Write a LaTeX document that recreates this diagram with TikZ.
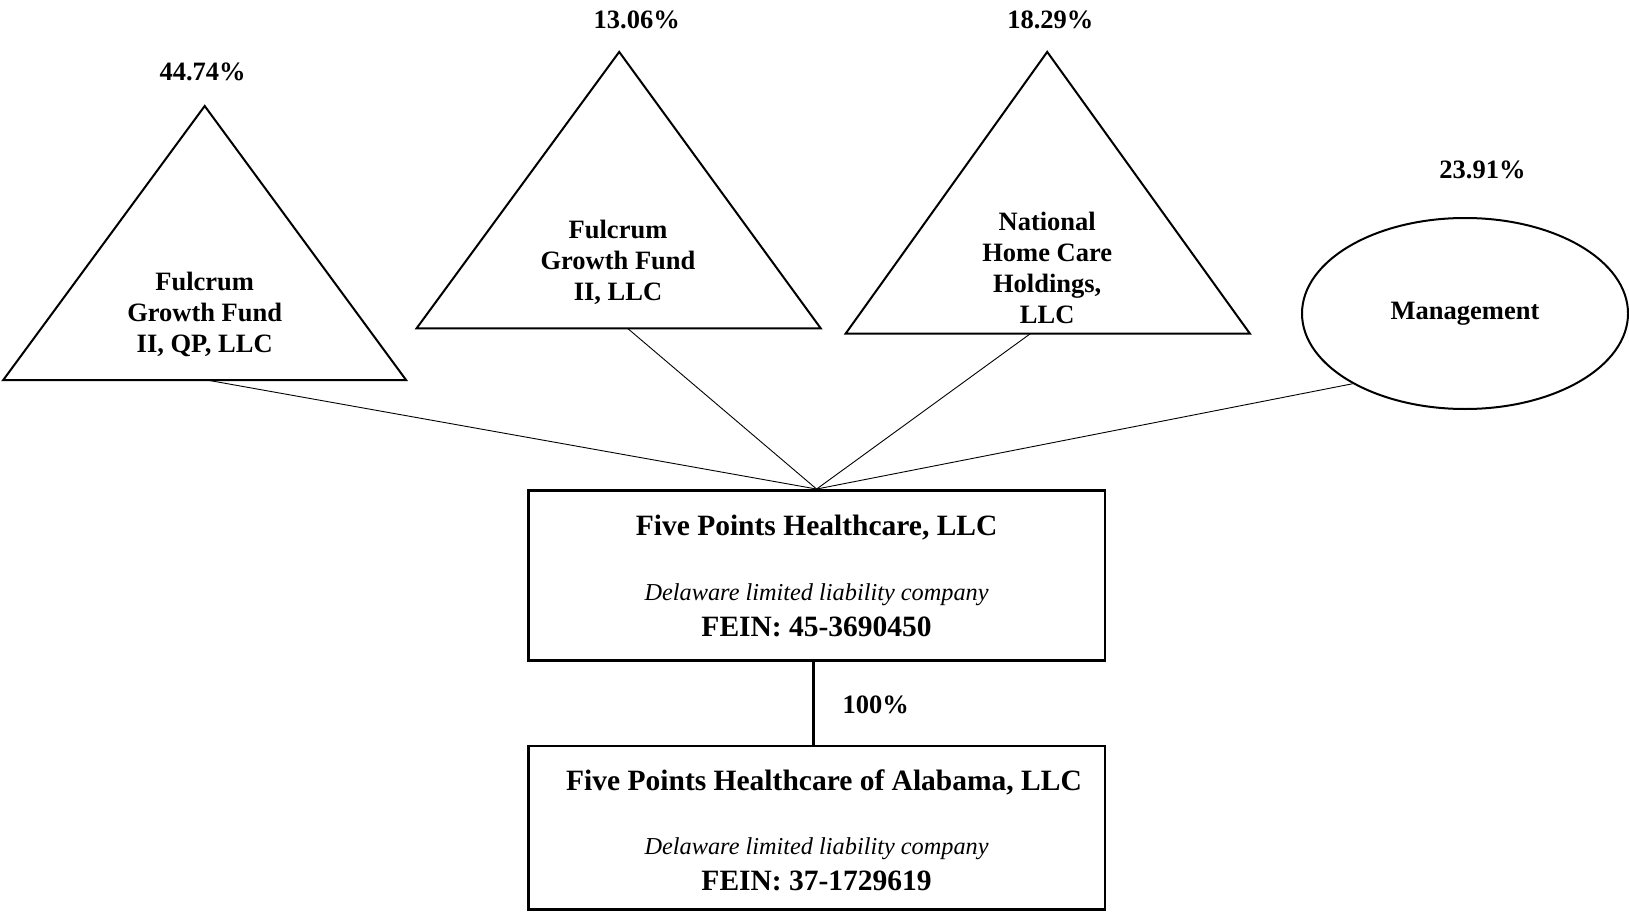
\documentclass[tikz,border=0pt]{standalone}
\usepackage{fontspec}
\setmainfont{Liberation Serif}
\usetikzlibrary{shapes.geometric}
\begin{document}
\begin{tikzpicture}[x=1pt,y=-1pt,
  shapeline/.style={draw, line width=2pt, line join=miter},
  link/.style={draw, line width=0.9pt},
  lbl/.style={font=\fontsize{26.5}{31}\selectfont\bfseries, align=center, inner sep=0pt},
  ttl/.style={font=\fontsize{29.5}{34}\selectfont\bfseries, inner sep=0pt},
  itl/.style={font=\fontsize{24.3}{28}\selectfont\itshape, inner sep=0pt},
  entbox/.style={draw, line width=2.6pt, rectangle, minimum width=576.6pt, inner sep=0pt}
]
\useasboundingbox (0,0) rectangle (1629,912);

% triangles
\draw[shapeline] (204.7,106) -- (406.2,380.2) -- (3.1,380.2) -- cycle;
\draw[shapeline] (619.2,51.9) -- (820.7,328.3) -- (416.6,328.3) -- cycle;
\draw[shapeline] (1047.2,51.9) -- (1249.8,333.5) -- (845.7,333.5) -- cycle;
\coordinate (t1b) at (207.8,380.2);
\coordinate (t2b) at (627.5,328.3);
\coordinate (t3b) at (1030.6,333.5);

\node[lbl] (t1) at (204.7,314.7) {Fulcrum\\Growth Fund\\II, QP, LLC};
\node[lbl] (t2) at (618,262.8) {Fulcrum\\Growth Fund\\II, LLC};
\node[lbl] (t3) at (1047.2,267.5) {National\\Home Care\\Holdings,\\LLC};

% ellipse
\node[draw, ellipse, line width=2pt, minimum width=326pt, minimum height=191pt, inner sep=0pt,
  font=\fontsize{26.5}{31}\selectfont\bfseries] (mgmt) at (1465,313.5) {Management};

% percentages
\node[lbl] (p1) at (202.6,71.6) {44.74\%};
\node[lbl] (p2) at (636.8,19.7) {13.06\%};
\node[lbl] (p3) at (1050.3,19.7) {18.29\%};
\node[lbl] (p4) at (1482.5,170.3) {23.91\%};

% boxes
\node[entbox, minimum height=170.3pt] (fph) at (816.6,575.5) {};
\node[entbox, minimum height=163.5pt] (fpa) at (816.6,827.8) {};

\node[ttl] (fph1) at (816.6,527.7) {Five Points Healthcare, LLC};
\node[itl] (fph2) at (816.6,594.2) {Delaware limited liability company};
\node[ttl] (fph3) at (816.6,626.4) {FEIN: 45-3690450};

\node[ttl] (fpa1) at (824,782.2) {Five Points Healthcare of Alabama, LLC};
\node[itl] (fpa2) at (816.6,848.7) {Delaware limited liability company};
\node[ttl] (fpa3) at (816.6,881) {FEIN: 37-1729619};

% connectors
\draw[link] (t1b) -- (fph.north);
\draw[link] (t2b) -- (fph.north);
\draw[link] (t3b) -- (fph.north);
\draw[link] (mgmt.212) -- (fph.north);
\draw[line width=2.4pt] ([xshift=-3pt]fph.south) -- ([xshift=-3pt]fpa.north);
\node[lbl] (p5) at (875.8,705.3) {100\%};
\end{tikzpicture}
\end{document}
